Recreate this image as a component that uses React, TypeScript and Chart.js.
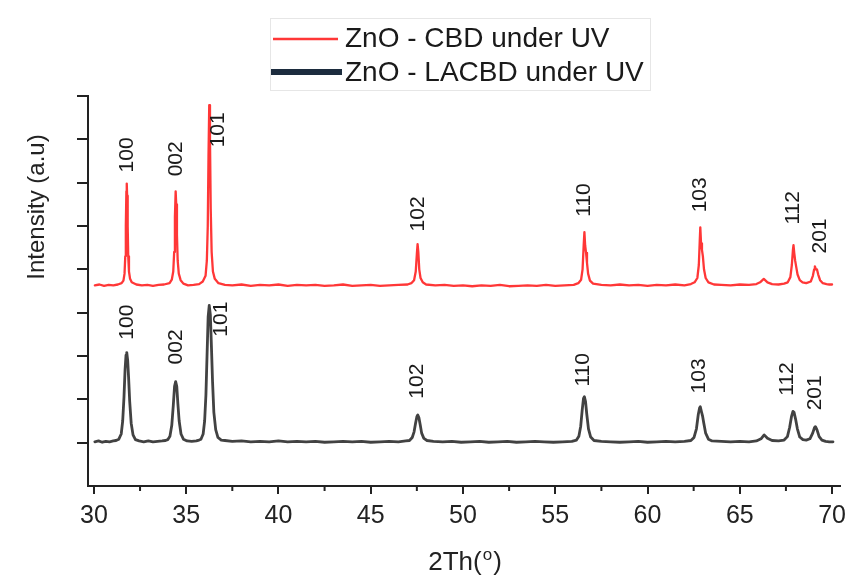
import { useEffect, useRef } from 'react';
import { Chart, registerables } from 'chart.js';

Chart.register(...registerables);

const FONT = '"Liberation Sans", Arial, sans-serif';
const NARROW = '"Liberation Sans Narrow", "Arial Narrow", "Liberation Sans", sans-serif';

// 2θ (deg), intensity (a.u., offset) — ZnO CBD under UV
const cbdPoints: [number, number][] = [
  [30.05, 4.63], [30.3, 4.65], [30.55, 4.62], [30.8, 4.64], [31.05, 4.63], [31.3, 4.65], [31.5, 4.68],
  [31.6, 4.74], [31.66, 4.9], [31.7, 5.3], [31.73, 6.0], [31.76, 6.8], [31.78, 6.98], [31.8, 6.7],
  [31.83, 6.0], [31.86, 5.3], [31.9, 4.95], [31.96, 4.78], [32.05, 4.7], [32.3, 4.65], [32.6, 4.63],
  [32.9, 4.64], [33.2, 4.62], [33.5, 4.64], [33.8, 4.65], [34.1, 4.68], [34.22, 4.76], [34.3, 4.95],
  [34.35, 5.4], [34.39, 6.2], [34.43, 6.8], [34.46, 6.5], [34.5, 5.8], [34.54, 5.2], [34.6, 4.9],
  [34.7, 4.75], [34.85, 4.67], [35.1, 4.63], [35.4, 4.64], [35.7, 4.66], [35.9, 4.72], [36.05, 4.85],
  [36.12, 5.2], [36.17, 6.0], [36.21, 7.6], [36.25, 8.79], [36.29, 8.0], [36.33, 6.4], [36.38, 5.4],
  [36.45, 4.95], [36.55, 4.78], [36.75, 4.68], [37.1, 4.64], [37.5, 4.63], [38.0, 4.65], [38.5, 4.62],
  [39.0, 4.64], [39.5, 4.63], [40.0, 4.65], [40.5, 4.62], [41.0, 4.64], [41.5, 4.63], [42.0, 4.64],
  [42.5, 4.62], [43.0, 4.63], [43.5, 4.65], [44.0, 4.62], [44.5, 4.63], [45.0, 4.64], [45.5, 4.62],
  [46.0, 4.63], [46.5, 4.64], [47.0, 4.65], [47.2, 4.68], [47.35, 4.75], [47.44, 4.95], [47.5, 5.35],
  [47.54, 5.58], [47.58, 5.4], [47.63, 5.0], [47.7, 4.8], [47.82, 4.7], [48.0, 4.65], [48.5, 4.63],
  [49.0, 4.64], [49.5, 4.62], [50.0, 4.63], [50.5, 4.61], [51.0, 4.63], [51.5, 4.62], [52.0, 4.64],
  [52.5, 4.61], [53.0, 4.62], [53.5, 4.63], [54.0, 4.62], [54.5, 4.64], [55.0, 4.62], [55.5, 4.63],
  [56.0, 4.64], [56.25, 4.68], [56.4, 4.76], [56.48, 5.0], [56.54, 5.55], [56.58, 5.86], [56.62, 5.55],
  [56.67, 5.38], [56.72, 5.15], [56.78, 4.9], [56.88, 4.74], [57.05, 4.67], [57.5, 4.64], [58.0, 4.63],
  [58.5, 4.65], [59.0, 4.63], [59.5, 4.64], [60.0, 4.62], [60.5, 4.64], [61.0, 4.63], [61.5, 4.65],
  [62.0, 4.63], [62.35, 4.66], [62.55, 4.7], [62.7, 4.8], [62.78, 5.1], [62.83, 5.65], [62.86, 5.97],
  [62.9, 5.6], [62.95, 5.45], [63.0, 5.3], [63.06, 5.0], [63.15, 4.8], [63.3, 4.7], [63.6, 4.65],
  [64.0, 4.64], [64.5, 4.63], [65.0, 4.65], [65.5, 4.64], [65.9, 4.66], [66.1, 4.7], [66.3, 4.78],
  [66.5, 4.7], [66.75, 4.66], [67.1, 4.65], [67.4, 4.67], [67.6, 4.7], [67.74, 4.82], [67.82, 5.1],
  [67.88, 5.45], [67.91, 5.56], [67.95, 5.38], [68.0, 5.2], [68.06, 5.05], [68.13, 4.88], [68.25, 4.75],
  [68.4, 4.7], [68.6, 4.68], [68.85, 4.72], [68.96, 4.85], [69.03, 5.0], [69.07, 5.07], [69.12, 5.0],
  [69.18, 5.0], [69.25, 4.88], [69.35, 4.75], [69.5, 4.68], [69.7, 4.66], [69.85, 4.65], [70.0, 4.65],
];

// 2θ (deg), intensity (a.u., offset) — ZnO LACBD under UV
const lacbdPoints: [number, number][] = [
  [30.05, 1.02], [30.25, 1.04], [30.45, 1.01], [30.65, 1.03], [30.85, 1.02], [31.05, 1.04], [31.2, 1.05],
  [31.35, 1.08], [31.48, 1.2], [31.56, 1.5], [31.63, 2.05], [31.69, 2.7], [31.74, 3.02], [31.78, 3.08],
  [31.83, 2.9], [31.88, 2.5], [31.94, 1.95], [32.02, 1.45], [32.12, 1.18], [32.25, 1.07], [32.45, 1.04],
  [32.7, 1.02], [32.95, 1.04], [33.2, 1.02], [33.45, 1.03], [33.7, 1.04], [33.88, 1.05], [34.0, 1.07],
  [34.12, 1.15], [34.22, 1.4], [34.3, 1.85], [34.37, 2.3], [34.43, 2.41], [34.49, 2.3], [34.55, 1.9],
  [34.62, 1.5], [34.72, 1.2], [34.85, 1.08], [35.05, 1.04], [35.3, 1.03], [35.55, 1.04], [35.7, 1.06],
  [35.8, 1.08], [35.92, 1.2], [36.0, 1.5], [36.07, 2.1], [36.13, 3.0], [36.19, 3.9], [36.25, 4.17],
  [36.31, 3.95], [36.37, 3.2], [36.43, 2.4], [36.5, 1.7], [36.6, 1.3], [36.72, 1.12], [36.9, 1.06],
  [37.1, 1.05], [37.5, 1.03], [38.0, 1.04], [38.5, 1.02], [39.0, 1.03], [39.5, 1.02], [40.0, 1.04],
  [40.5, 1.02], [41.0, 1.03], [41.5, 1.02], [42.0, 1.03], [42.5, 1.01], [43.0, 1.02], [43.5, 1.03],
  [44.0, 1.02], [44.5, 1.03], [45.0, 1.01], [45.5, 1.02], [46.0, 1.03], [46.5, 1.02], [46.9, 1.04],
  [47.1, 1.05], [47.25, 1.12], [47.35, 1.25], [47.43, 1.45], [47.5, 1.6], [47.55, 1.64], [47.61, 1.58],
  [47.68, 1.42], [47.76, 1.22], [47.88, 1.1], [48.05, 1.05], [48.4, 1.03], [48.9, 1.02], [49.4, 1.03],
  [49.9, 1.01], [50.4, 1.02], [50.9, 1.03], [51.4, 1.01], [51.9, 1.02], [52.4, 1.03], [52.9, 1.01],
  [53.4, 1.02], [53.9, 1.03], [54.4, 1.02], [54.9, 1.01], [55.4, 1.02], [55.9, 1.03], [56.15, 1.06],
  [56.28, 1.15], [56.38, 1.38], [56.46, 1.75], [56.53, 2.02], [56.58, 2.06], [56.64, 1.95], [56.71, 1.65],
  [56.8, 1.32], [56.92, 1.13], [57.1, 1.05], [57.5, 1.03], [58.0, 1.02], [58.5, 1.01], [59.0, 1.02],
  [59.5, 1.03], [60.0, 1.01], [60.5, 1.02], [61.0, 1.03], [61.5, 1.02], [62.0, 1.03], [62.35, 1.05],
  [62.52, 1.12], [62.65, 1.32], [62.75, 1.65], [62.82, 1.8], [62.86, 1.83], [62.92, 1.72], [62.98, 1.62],
  [63.05, 1.45], [63.15, 1.22], [63.3, 1.08], [63.5, 1.04], [64.0, 1.03], [64.5, 1.02], [65.0, 1.03],
  [65.5, 1.02], [65.9, 1.04], [66.15, 1.09], [66.32, 1.18], [66.5, 1.1], [66.75, 1.05], [67.1, 1.04],
  [67.4, 1.06], [67.58, 1.14], [67.7, 1.35], [67.8, 1.6], [67.88, 1.72], [67.94, 1.7], [68.02, 1.55],
  [68.12, 1.32], [68.25, 1.13], [68.42, 1.07], [68.6, 1.06], [68.8, 1.09], [68.95, 1.22], [69.05, 1.35],
  [69.1, 1.37], [69.18, 1.3], [69.3, 1.14], [69.45, 1.06], [69.65, 1.03], [69.85, 1.02], [70.05, 1.02],
];

const seriesNames = ['ZnO - CBD under UV', 'ZnO - LACBD under UV'];

// (hkl) peak labels and their anchor positions (2θ, intensity)
const peakLabels = ['100', '002', '101', '102', '110', '103', '112', '201'];
const cbdLabelX = [31.79, 34.44, 36.72, 47.56, 56.56, 62.85, 67.9, 69.35];
const cbdLabelY = [7.64, 7.55, 8.22, 6.28, 6.6, 6.72, 6.42, 5.77];
const lacbdLabelX = [31.79, 34.44, 36.88, 47.5, 56.5, 62.8, 67.56, 69.08];
const lacbdLabelY = [3.78, 3.21, 3.85, 2.42, 2.68, 2.54, 2.47, 2.15];

const xTickValues = [30, 32.5, 35, 37.5, 40, 42.5, 45, 47.5, 50, 52.5, 55, 57.5, 60, 62.5, 65, 67.5, 70];
const xMin = 29.68;
const xMax = 70.43;
const yMin = 0;
const yMax = 9;

const RED = 'rgb(255, 55, 55)';
const GREY = 'rgb(66, 66, 66)';
const NAVY = 'rgb(28, 44, 62)';
const AXIS = '#222';

const overlay = {
  id: 'overlay',
  afterDraw(chart: any) {
    const { ctx, chartArea, scales } = chart;
    const xs = scales.x;
    const ys = scales.y;
    ctx.save();

    // minor ticks on x axis
    ctx.strokeStyle = AXIS;
    ctx.lineWidth = 2;
    xTickValues.forEach((v) => {
      if (v % 5 !== 0) {
        const px = xs.getPixelForValue(v);
        ctx.beginPath();
        ctx.moveTo(px, chartArea.bottom);
        ctx.lineTo(px, chartArea.bottom + 5);
        ctx.stroke();
      }
    });

    // peak labels
    ctx.fillStyle = '#1a1a1a';
    ctx.font = `21px ${FONT}`;
    ctx.textAlign = 'center';
    ctx.textBaseline = 'middle';
    const drawRot = (text: string, px: number, py: number) => {
      ctx.save();
      ctx.translate(px, py);
      ctx.rotate(-Math.PI / 2);
      ctx.fillText(text, 0, 0);
      ctx.restore();
    };
    peakLabels.forEach((lab, i) => {
      drawRot(lab, xs.getPixelForValue(cbdLabelX[i]), ys.getPixelForValue(cbdLabelY[i]));
      drawRot(lab, xs.getPixelForValue(lacbdLabelX[i]), ys.getPixelForValue(lacbdLabelY[i]));
    });

    // y axis title
    ctx.font = `24px ${FONT}`;
    ctx.fillStyle = AXIS;
    drawRot('Intensity (a.u)', chartArea.left - 51, chartArea.top + 111);

    // x axis title: 2Th(°) with superscript o
    const cx = (chartArea.left + chartArea.right) / 2 + 1;
    const cy = chartArea.bottom + 77;
    ctx.font = `26px ${NARROW}`;
    const partA = '2Th(';
    const partC = ')';
    const wA = ctx.measureText(partA).width;
    const wC = ctx.measureText(partC).width;
    ctx.font = `17px ${NARROW}`;
    const wB = ctx.measureText('o').width;
    const total = wA + wB + wC + 2;
    const sx = cx - total / 2;
    ctx.textAlign = 'left';
    ctx.font = `26px ${NARROW}`;
    ctx.fillText(partA, sx, cy);
    ctx.font = `17px ${NARROW}`;
    ctx.fillText('o', sx + wA + 1, cy - 8);
    ctx.font = `26px ${NARROW}`;
    ctx.fillText(partC, sx + wA + wB + 2, cy);

    // legend
    ctx.strokeStyle = '#e6e6e6';
    ctx.lineWidth = 1;
    ctx.strokeRect(270.5, 18.5, 380, 72);
    ctx.lineCap = 'butt';
    ctx.strokeStyle = RED;
    ctx.lineWidth = 2.5;
    ctx.beginPath();
    ctx.moveTo(273, 39);
    ctx.lineTo(338, 39);
    ctx.stroke();
    ctx.strokeStyle = NAVY;
    ctx.lineWidth = 6;
    ctx.beginPath();
    ctx.moveTo(271, 72);
    ctx.lineTo(342, 72);
    ctx.stroke();
    ctx.fillStyle = '#1a1a1a';
    ctx.font = `28px ${FONT}`;
    ctx.textAlign = 'left';
    ctx.textBaseline = 'middle';
    ctx.fillText(seriesNames[0], 345, 39);
    ctx.fillText(seriesNames[1], 345, 73);

    ctx.restore();
  },
};

export default function App() {
  const ref = useRef<HTMLCanvasElement>(null);
  useEffect(() => {
    document.body.style.margin = '0';
    const chart = new Chart(ref.current as HTMLCanvasElement, {
      type: 'scatter',
      data: {
        datasets: [
          {
            label: seriesNames[0],
            data: cbdPoints.map(([x, y]) => ({ x, y })),
            showLine: true,
            borderColor: RED,
            borderWidth: 2.3,
            borderJoinStyle: 'round',
            borderCapStyle: 'round',
            pointRadius: 0,
            tension: 0,
          },
          {
            label: seriesNames[1],
            data: lacbdPoints.map(([x, y]) => ({ x, y })),
            showLine: true,
            borderColor: GREY,
            borderWidth: 2.8,
            borderJoinStyle: 'round',
            borderCapStyle: 'round',
            pointRadius: 0,
            tension: 0,
          },
        ],
      },
      options: {
        animation: false,
        responsive: false,
        devicePixelRatio: 1,
        layout: { padding: { top: 96, right: 28, left: 0, bottom: 0 } },
        plugins: {
          legend: { display: false },
          tooltip: { enabled: false },
        },
        scales: {
          x: {
            type: 'linear',
            min: xMin,
            max: xMax,
            afterBuildTicks: (s: any) => {
              s.ticks = xTickValues.map((v) => ({ value: v }));
            },
            afterFit: (s: any) => {
              s.height = 96;
            },
            border: { display: true, color: AXIS, width: 2 },
            grid: {
              drawOnChartArea: false,
              drawTicks: true,
              tickLength: 8,
              lineWidth: 2,
              tickColor: (c: any) => (c.tick && c.tick.value % 5 === 0 ? AXIS : 'rgba(0,0,0,0)'),
            },
            ticks: {
              autoSkip: false,
              maxRotation: 0,
              padding: 7,
              color: AXIS,
              font: { family: NARROW, size: 25 },
              callback: (v: any) => (Number(v) % 5 === 0 ? String(v) : ''),
            },
          },
          y: {
            type: 'linear',
            min: yMin,
            max: yMax,
            afterFit: (s: any) => {
              s.width = 88;
            },
            border: { display: true, color: AXIS, width: 2 },
            grid: {
              drawOnChartArea: false,
              drawTicks: true,
              tickLength: 11,
              lineWidth: 2,
              tickColor: (c: any) => (c.tick && c.tick.value === 0 ? 'rgba(0,0,0,0)' : AXIS),
            },
            ticks: {
              stepSize: 1,
              callback: () => '',
            },
          },
        },
      },
      plugins: [overlay],
    });
    return () => chart.destroy();
  }, []);
  return <canvas ref={ref} width={868} height={582} style={{ display: 'block' }} />;
}
